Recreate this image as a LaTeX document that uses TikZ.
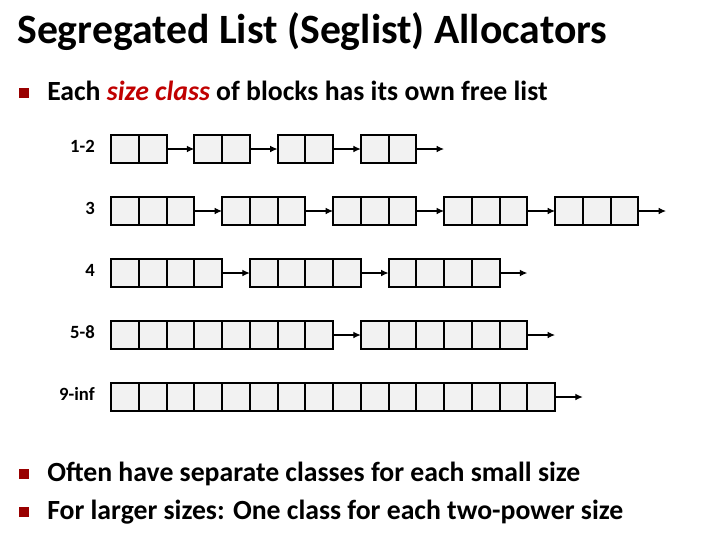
\documentclass[tikz,border=0pt]{standalone}
\usepackage{fontspec}
\setmainfont{Carlito}
\usetikzlibrary{arrows.meta}
\definecolor{bulletred}{HTML}{990000}
\definecolor{termred}{HTML}{C00000}
\definecolor{cellfill}{HTML}{F2F2F2}

% one free block: name, row centre y, start column, number of words
\newcommand\freeblock[4]{%
  \node[blockbox, minimum width=#4*20.8125pt] (#1) at ({111+#3*27.75},#2) {};
  \foreach \c in {1,...,#4}{%
    \ifnum\c<#4\relax
      \draw[celldiv] ({111+(#3+\c)*27.75},#2-14) -- ({111+(#3+\c)*27.75},#2+14);
    \fi}%
}

\begin{document}
\begin{tikzpicture}[x=0.75pt,y=-0.75pt,
  blockbox/.style={draw, line width=1.5pt, fill=cellfill, inner sep=0pt,
    outer sep=0pt, minimum height=21pt, anchor=west},
  celldiv/.style={line width=1.5pt},
  link/.style={line width=0.8pt, -{Latex[length=5.5pt,width=5pt]}},
  classlabel/.style={anchor=mid east, inner sep=0pt,
    font=\bfseries\fontsize{14}{16}\selectfont},
  bulletsq/.style={fill=bulletred, inner sep=0pt, minimum size=7.5pt},
  bullettext/.style={anchor=base west, inner sep=0pt,
    font=\bfseries\fontsize{20.8}{25}\selectfont},
]
\useasboundingbox (0,0) rectangle (702,542);

% heading and first bullet
\node[anchor=base west, inner sep=0pt, font=\bfseries\fontsize{31.3}{37}\selectfont]
  (title) at (17,44) {Segregated List (Seglist) Allocators};
\node[bulletsq] (b1) at (23.5,92.5) {};
\node[bullettext] (t1) at (47,100)
  {Each \textcolor{termred}{\itshape size class} of blocks has its own free list};

% size class 1-2
\node[classlabel] (l1) at (95,149) {1-2};
\freeblock{a1}{149}{0}{2}
\freeblock{a2}{149}{3}{2}
\freeblock{a3}{149}{6}{2}
\freeblock{a4}{149}{9}{2}
\coordinate (a5) at ({111+12*27.75},149);
\draw[link] (a1.east) -- (a2.west);
\draw[link] (a2.east) -- (a3.west);
\draw[link] (a3.east) -- (a4.west);
\draw[link] (a4.east) -- (a5);

% size class 3
\node[classlabel] (l2) at (95,211) {3};
\freeblock{c1}{211}{0}{3}
\freeblock{c2}{211}{4}{3}
\freeblock{c3}{211}{8}{3}
\freeblock{c4}{211}{12}{3}
\freeblock{c5}{211}{16}{3}
\coordinate (c6) at ({111+20*27.75},211);
\draw[link] (c1.east) -- (c2.west);
\draw[link] (c2.east) -- (c3.west);
\draw[link] (c3.east) -- (c4.west);
\draw[link] (c4.east) -- (c5.west);
\draw[link] (c5.east) -- (c6);

% size class 4
\node[classlabel] (l3) at (95,273) {4};
\freeblock{d1}{273}{0}{4}
\freeblock{d2}{273}{5}{4}
\freeblock{d3}{273}{10}{4}
\coordinate (d4) at ({111+15*27.75},273);
\draw[link] (d1.east) -- (d2.west);
\draw[link] (d2.east) -- (d3.west);
\draw[link] (d3.east) -- (d4);

% size class 5-8
\node[classlabel] (l4) at (95,335) {5-8};
\freeblock{e1}{335}{0}{8}
\freeblock{e2}{335}{9}{6}
\coordinate (e3) at ({111+16*27.75},335);
\draw[link] (e1.east) -- (e2.west);
\draw[link] (e2.east) -- (e3);

% size class 9-inf
\node[classlabel] (l5) at (95,397) {9-inf};
\freeblock{f1}{397}{0}{16}
\coordinate (f2) at ({111+17*27.75},397);
\draw[link] (f1.east) -- (f2);

% closing bullets
\node[bulletsq] (b2) at (23.5,473.5) {};
\node[bullettext] (t2) at (47,481) {Often have separate classes for each small size};
\node[bulletsq] (b3) at (23.5,511.5) {};
\node[bullettext] (t3) at (47,519) {For larger sizes: One class for each two-power size};
\end{tikzpicture}
\end{document}
